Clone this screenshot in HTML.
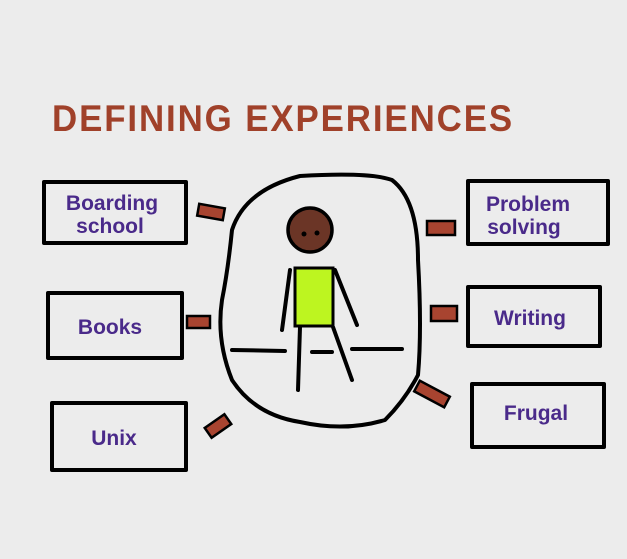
<!DOCTYPE html>
<html><head><style>
body{margin:0;width:627px;height:559px;background:#ececec;overflow:hidden}
svg{display:block}
text{font-family:"Liberation Sans",sans-serif}
</style></head><body>
<svg width="627" height="559" viewBox="0 0 627 559">
<rect width="627" height="559" fill="#ececec"/>
<text x="52" y="131" font-size="37" font-weight="bold" fill="#a0412a" letter-spacing="2" textLength="462" lengthAdjust="spacingAndGlyphs">DEFINING EXPERIENCES</text>
<g fill="none" stroke="#000" stroke-width="4" stroke-linecap="round" stroke-linejoin="round">
<path d="M300 176 Q370 172 392 180 Q418 200 418 260 Q422 330 418 375 Q405 400 385 420 Q345 432 300 422 Q255 415 232 380 Q216 340 222 300 Q228 270 232 230 Q245 190 300 176 Z"/>
<rect x="44" y="182" width="142" height="61"/>
<rect x="48" y="293" width="134" height="65"/>
<rect x="52" y="403" width="134" height="67"/>
<rect x="468" y="181" width="140" height="63"/>
<rect x="468" y="287" width="132" height="59"/>
<rect x="472" y="384" width="132" height="63"/>
<path d="M290 270 L282 330 M335 270 L357 325 M300 327 L298 390 M333 327 L352 380 M232 350 L285 351 M312 352 L332 352 M352 349 L402 349"/>
</g>
<circle cx="310" cy="230" r="22" fill="#6b3526" stroke="#000" stroke-width="3.5"/>
<circle cx="304" cy="234" r="2.5" fill="#000"/><circle cx="317" cy="233" r="2.5" fill="#000"/>
<rect x="295" y="268" width="38" height="58" fill="#bdf520" stroke="#000" stroke-width="3"/>
<g fill="#a84430" stroke="#000" stroke-width="2.5">
<rect x="198" y="206" width="26" height="12" transform="rotate(10 211 212)"/>
<rect x="187" y="316" width="23" height="12"/>
<rect x="206" y="420" width="24" height="12" transform="rotate(-35 218 426)"/>
<rect x="427" y="221" width="28" height="14"/>
<rect x="431" y="306" width="26" height="15"/>
<rect x="415" y="388" width="34" height="12" transform="rotate(28 432 394)"/>
</g>
<g fill="#4a2a8a" font-size="21" font-weight="bold" text-anchor="middle">
<text x="112" y="210">Boarding</text><text x="110" y="233">school</text>
<text x="110" y="334">Books</text>
<text x="114" y="445">Unix</text>
<text x="528" y="211">Problem</text><text x="524" y="234">solving</text>
<text x="530" y="325">Writing</text>
<text x="536" y="420">Frugal</text>
</g>
</svg>
</body></html>
